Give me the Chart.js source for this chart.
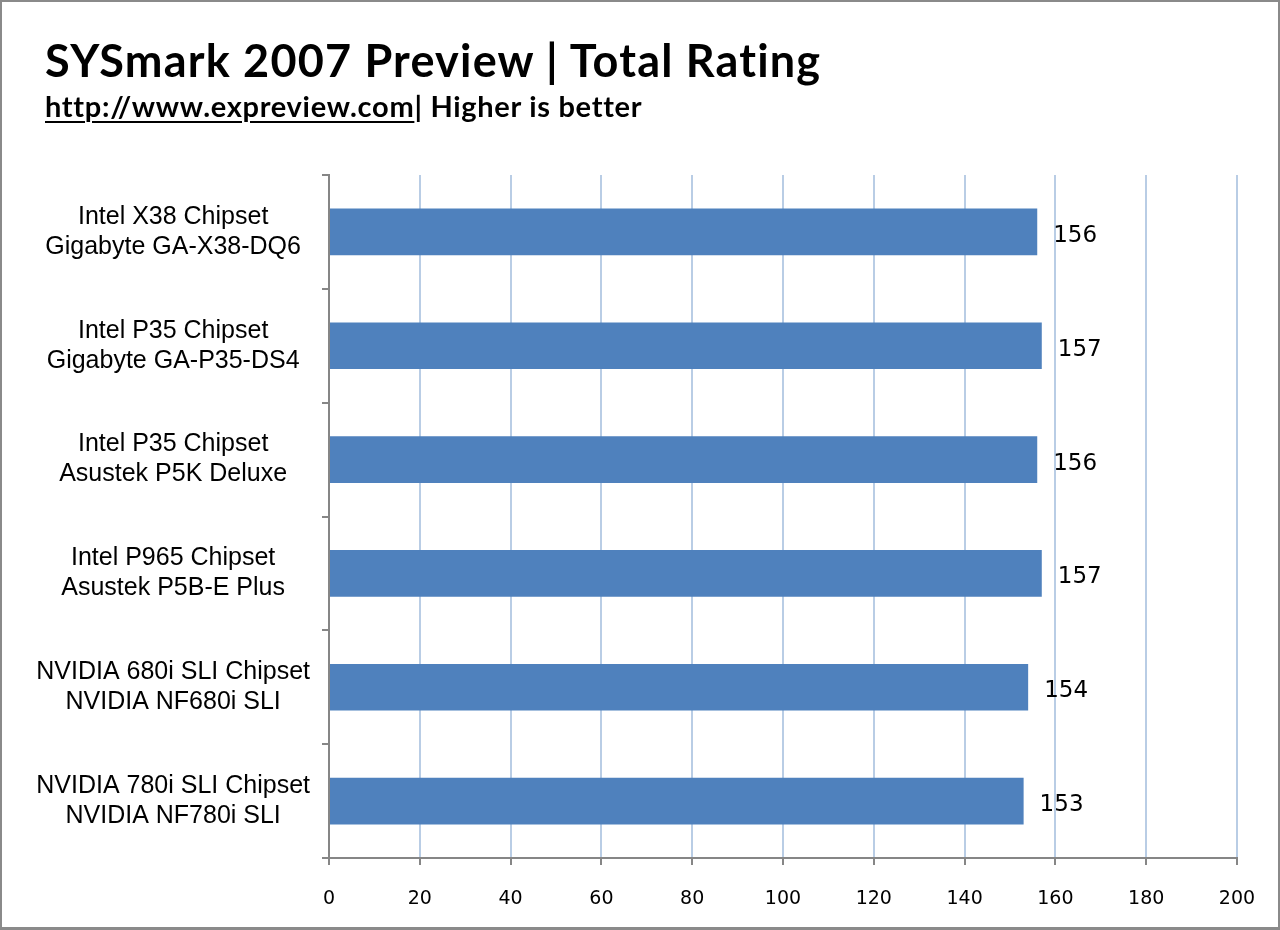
<!DOCTYPE html>
<html>
<head>
<meta charset="utf-8">
<title>SYSmark 2007 Preview | Total Rating</title>
<script src="https://cdn.jsdelivr.net/npm/chart.js@4.4.1/dist/chart.umd.min.js"></script>
<style>
  html, body { margin: 0; padding: 0; background: #fff; }
  #wrap { position: relative; width: 1280px; height: 930px; overflow: hidden; }
  #chartBox { position: absolute; left: 0; top: 0; width: 1280px; height: 930px; }
  #frame { position: absolute; left: 0; top: 0; width: 1280px; height: 930px; box-sizing: border-box;
           border: 2px solid #8a8a8a; border-bottom-width: 3px; pointer-events: none; }
  .title { position: absolute; left: 45px; top: 33px; font-family: Lato, "Open Sans", sans-serif;
           font-weight: bold; font-size: 45px; line-height: 54px; letter-spacing: 1.2px;
           white-space: nowrap; color: #000; }
  .subtitle { position: absolute; left: 45px; top: 88px; font-family: Lato, "Open Sans", sans-serif;
              font-weight: bold; font-size: 29px; line-height: 35px; letter-spacing: 0.7px;
              white-space: nowrap; color: #000; }
  .subtitle u { text-decoration-thickness: 2px; text-underline-offset: 4px; }
</style>
</head>
<body>
<div id="wrap">
  <div id="chartBox"><canvas id="ratingChart"></canvas></div>
  <div class="title">SYSmark 2007 Preview | Total Rating</div>
  <div class="subtitle"><u>http://www.expreview.com</u>| Higher is better</div>
  <div id="frame"></div>
</div>
<script>
// boards, top to bottom
var boards = [
  ["Intel X38 Chipset", "Gigabyte GA-X38-DQ6"],
  ["Intel P35 Chipset", "Gigabyte GA-P35-DS4"],
  ["Intel P35 Chipset", "Asustek P5K Deluxe"],
  ["Intel P965 Chipset", "Asustek P5B-E Plus"],
  ["NVIDIA 680i SLI Chipset", "NVIDIA NF680i SLI"],
  ["NVIDIA 780i SLI Chipset", "NVIDIA NF780i SLI"]
];
var totalRating = [156, 157, 156, 157, 154, 153];

// x axis: 0 .. 200 every 20
var xMin = 0;
var xMax = 200;
var xStep = 20;

Chart.defaults.font.family = '"Liberation Sans", Arial, sans-serif';
Chart.defaults.color = '#000';

var axisGray = '#868686';

// numbers at the end of the bars
var valueLabels = {
  id: 'valueLabels',
  afterDatasetsDraw: function (chart) {
    var ctx = chart.ctx;
    var meta = chart.getDatasetMeta(0);
    ctx.save();
    ctx.font = '23px "DejaVu Sans", Tahoma, sans-serif';
    ctx.fillStyle = '#000';
    ctx.textAlign = 'left';
    ctx.textBaseline = 'middle';
    meta.data.forEach(function (bar, i) {
      ctx.fillText(totalRating[i], bar.x + 16, bar.y + 4);
    });
    ctx.restore();
  }
};

var ctx = document.getElementById('ratingChart').getContext('2d');
var ratingChart = new Chart(ctx, {
  type: 'bar',
  data: {
    labels: boards,
    datasets: [{
      data: totalRating,
      backgroundColor: '#4F81BD',
      borderWidth: 0,
      barPercentage: 0.41,
      categoryPercentage: 1
    }]
  },
  options: {
    indexAxis: 'y',
    responsive: true,
    maintainAspectRatio: false,
    animation: false,
    layout: { padding: { top: 175, right: 43, left: 0, bottom: 0 } },
    plugins: {
      legend: { display: false },
      tooltip: { enabled: false }
    },
    scales: {
      x: {
        type: 'linear',
        min: xMin,
        max: xMax,
        ticks: {
          stepSize: xStep,
          padding: 23,
          font: { family: '"DejaVu Sans", Tahoma, sans-serif', size: 19 },
          color: '#000'
        },
        grid: {
          color: '#B9CDE5',
          lineWidth: 2,
          tickColor: axisGray,
          tickLength: 7,
          tickWidth: 2
        },
        border: { color: axisGray, width: 2 },
        afterFit: function (scale) { scale.height = 72; }
      },
      y: {
        type: 'category',
        ticks: {
          crossAlign: 'center',
          padding: 12,
          font: { size: 25, lineHeight: 1.2 },
          color: '#000'
        },
        grid: {
          offset: true,
          drawOnChartArea: false,
          color: axisGray,
          lineWidth: 2,
          tickLength: 7
        },
        border: { color: axisGray, width: 2 },
        afterFit: function (scale) { scale.width = 329; }
      }
    }
  },
  plugins: [valueLabels]
});
</script>
</body>
</html>
